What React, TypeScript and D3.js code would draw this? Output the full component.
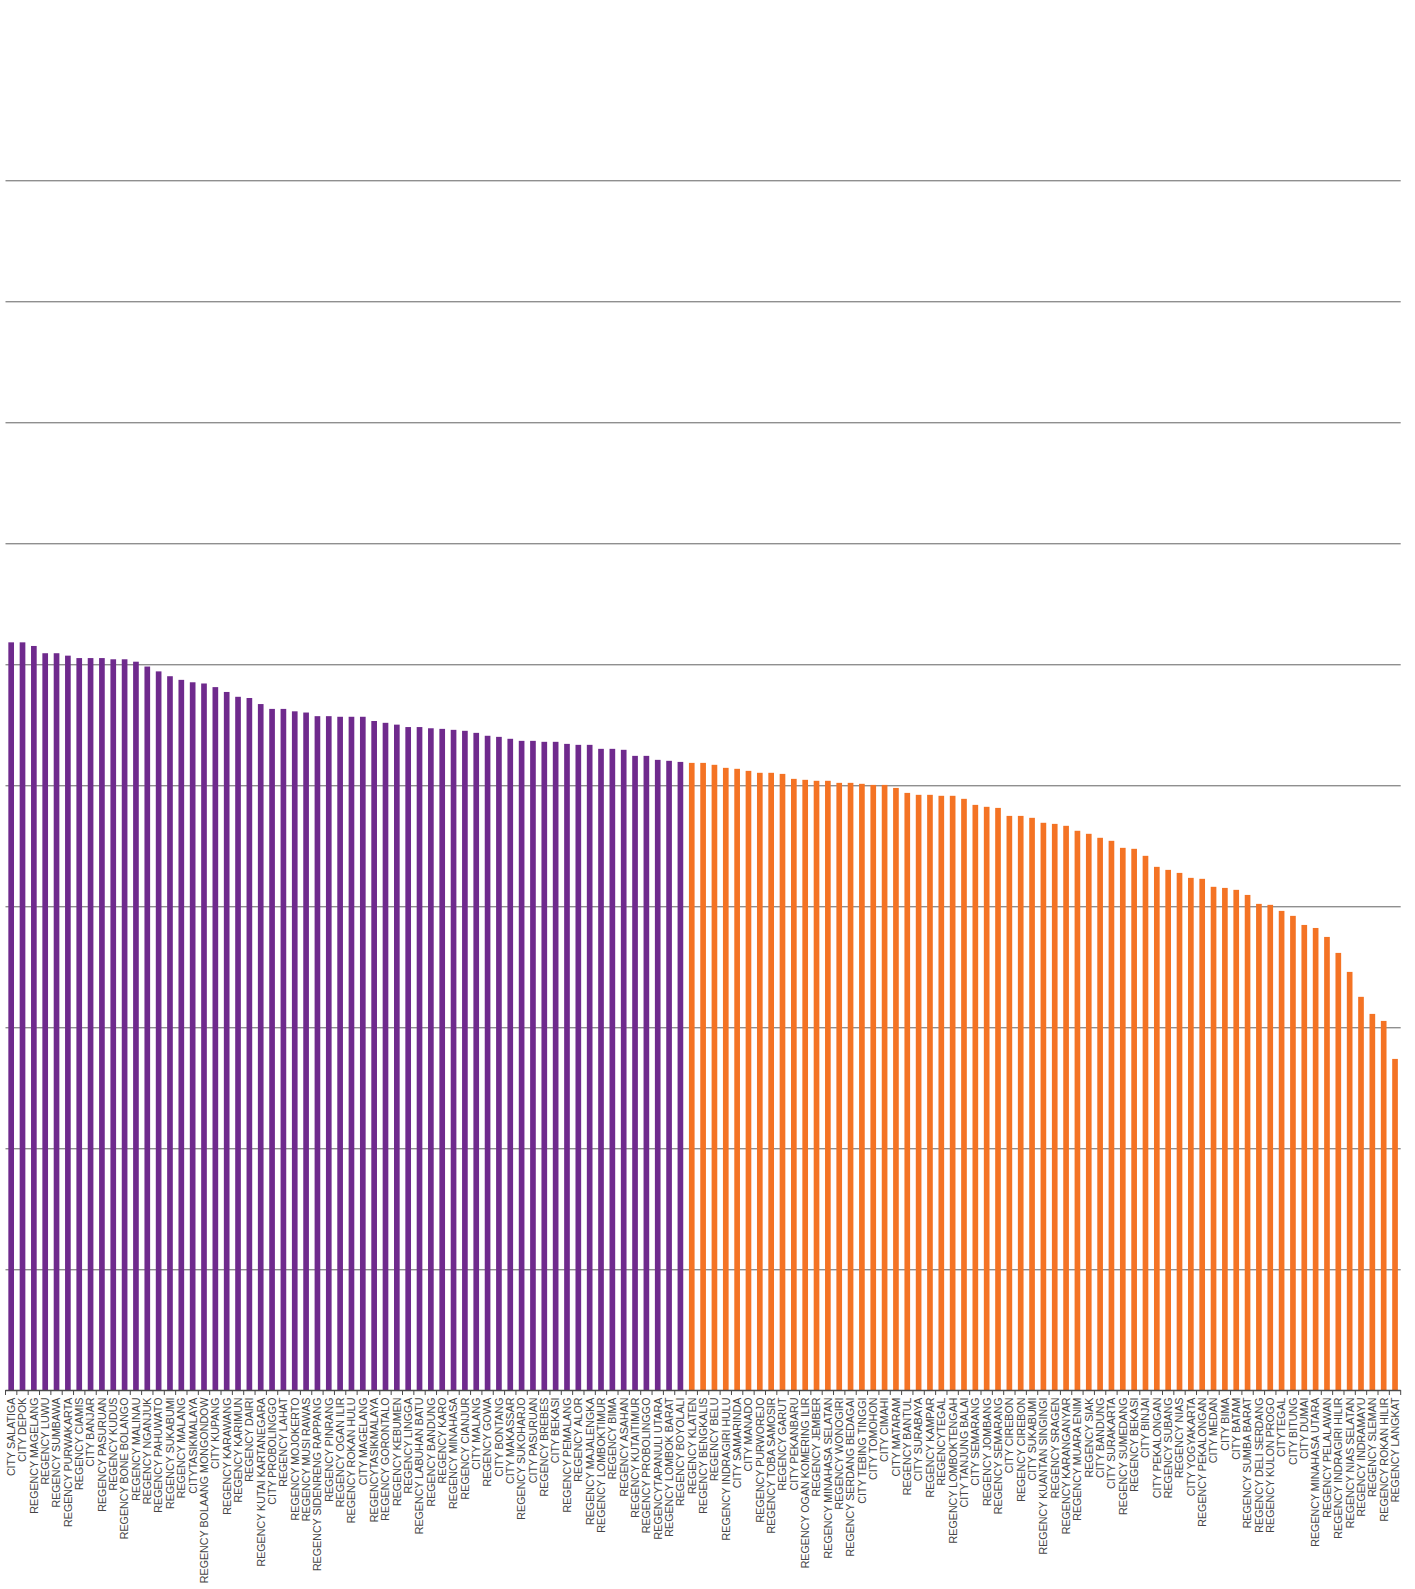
import React from "react";
import * as d3 from "d3";

const purpleNames: string[] = [
  "CITY SALATIGA", "CITY DEPOK", "REGENCY MAGELANG", "REGENCY LUWU", "REGENCY SUMBAWA",
  "REGENCY PURWAKARTA", "REGENCY CIAMIS", "CITY BANJAR", "REGENCY PASURUAN", "REGENCY KUDUS",
  "REGENCY BONE BOLANGO", "REGENCY MALINAU", "REGENCY NGANJUK", "REGENCY PAHUWATO", "REGENCY SUKABUMI",
  "REGENCY MALANG", "CITYTASIKMALAYA", "REGENCY BOLAANG MONGONDOW", "CITY KUPANG", "REGENCY KARAWANG",
  "REGENCY KARIMUN", "REGENCY DAIRI", "REGENCY KUTAI KARTANEGARA", "CITY PROBOLINGGO", "REGENCY LAHAT",
  "REGENCY MOJOKERTO", "REGENCY MUSI RAWAS", "REGENCY SIDENRENG RAPPANG", "REGENCY PINRANG", "REGENCY OGAN ILIR",
  "REGENCY ROKAN HULU", "CITY MAGELANG", "REGENCYTASIKMALAYA", "REGENCY GORONTALO", "REGENCY KEBUMEN",
  "REGENCY LINGGA", "REGENCY LABUHAN BATU", "REGENCY BANDUNG", "REGENCY KARO", "REGENCY MINAHASA",
  "REGENCY CIANJUR", "CITY MALANG", "REGENCY GOWA", "CITY BONTANG", "CITY MAKASSAR",
  "REGENCY SUKOHARJO", "CITY PASURUAN", "REGENCY BREBES", "CITY BEKASI", "REGENCY PEMALANG",
  "REGENCY ALOR", "REGENCY MAJALENGKA", "REGENCY LOMBOKTIMUR", "REGENCY BIMA", "REGENCY ASAHAN",
  "REGENCY KUTAITIMUR", "REGENCY PROBOLINGGO", "REGENCYTAPANULI UTARA", "REGENCY LOMBOK BARAT", "REGENCY BOYOLALI",
];
const purpleValues: number[] = [
  6.18, 6.18, 6.15, 6.09, 6.09, 6.07, 6.05, 6.05, 6.05, 6.04,
  6.04, 6.02, 5.98, 5.94, 5.90, 5.87, 5.85, 5.84, 5.81, 5.77,
  5.73, 5.72, 5.67, 5.63, 5.63, 5.61, 5.60, 5.57, 5.57, 5.565,
  5.565, 5.565, 5.53, 5.515, 5.50, 5.48, 5.48, 5.47, 5.465, 5.457,
  5.449, 5.432, 5.408, 5.399, 5.383, 5.366, 5.366, 5.358, 5.358, 5.341,
  5.333, 5.333, 5.30, 5.30, 5.292, 5.242, 5.242, 5.209, 5.201, 5.192,
];

const orangeNames: string[] = [
  "REGENCY KLATEN", "REGENCY BENGKALIS", "REGENCY BELU", "REGENCY INDRAGIRI HULU", "CITY SAMARINDA",
  "CITY MANADO", "REGENCY PURWOREJO", "REGENCY TOBA SAMOSIR", "REGENCY GARUT", "CITY PEKANBARU",
  "REGENCY OGAN KOMERING ILIR", "REGENCY JEMBER", "REGENCY MINAHASA SELATAN", "REGENCY WONOGIRI", "REGENCY SERDANG BEDAGAI",
  "CITY TEBING TINGGI", "CITY TOMOHON", "CITY CIMAHI", "CITY MATARAM", "REGENCY BANTUL",
  "CITY SURABAYA", "REGENCY KAMPAR", "REGENCYTEGAL", "REGENCY LOMBOKTENGAH", "CITY TANJUNG BALAI",
  "CITY SEMARANG", "REGENCY JOMBANG", "REGENCY SEMARANG", "CITY CIREBON", "REGENCY CIREBON",
  "CITY SUKABUMI", "REGENCY KUANTAN SINGINGI", "REGENCY SRAGEN", "REGENCY KARANGANYAR", "REGENCY MUARA ENIM",
  "REGENCY SIAK", "CITY BANDUNG", "CITY SURAKARTA", "REGENCY SUMEDANG", "REGENCY BEKASI",
  "CITY BINJAI", "CITY PEKALONGAN", "REGENCY SUBANG", "REGENCY NIAS", "CITY YOGYAKARTA",
  "REGENCY PEKALONGAN", "CITY MEDAN", "CITY BIMA", "CITY BATAM", "REGENCY SUMBA BARAT",
  "REGENCY DELI SERDANG", "REGENCY KULON PROGO", "CITYTEGAL", "CITY BITUNG", "CITY DUMAI",
  "REGENCY MINAHASA UTARA", "REGENCY PELALAWAN", "REGENCY INDRAGIRI HILIR", "REGENCY NIAS SELATAN", "REGENCY INDRAMAYU",
  "REGENCY SLEMAN", "REGENCY ROKAN HILIR", "REGENCY LANGKAT",
];
const orangeValues: number[] = [
  5.184, 5.184, 5.168, 5.143, 5.135, 5.118, 5.102, 5.102, 5.093, 5.052,
  5.044, 5.036, 5.036, 5.019, 5.019, 5.011, 5.002, 5.002, 4.977, 4.936,
  4.92, 4.92, 4.912, 4.912, 4.887, 4.837, 4.821, 4.812, 4.746, 4.746,
  4.73, 4.689, 4.68, 4.664, 4.623, 4.598, 4.565, 4.54, 4.482, 4.474,
  4.416, 4.325, 4.30, 4.275, 4.234, 4.226, 4.16, 4.151, 4.135, 4.093,
  4.019, 4.011, 3.961, 3.92, 3.845, 3.82, 3.746, 3.614, 3.457, 3.251,
  3.11, 3.052, 2.738,
];

const gridTicks: number[] = [1, 2, 3, 4, 5, 6, 7, 8, 9, 10];

const PURPLE = "#6F2A8D";
const ORANGE = "#F47324";

export default function App() {
  const width = 1415;
  const height = 1589;
  const data = [
    ...purpleNames.map((n, i) => ({ name: n, value: purpleValues[i], color: PURPLE })),
    ...orangeNames.map((n, i) => ({ name: n, value: orangeValues[i], color: ORANGE })),
  ];
  const x0 = 5.5;
  const x1 = 1400.7;
  const x = d3
    .scaleBand<number>()
    .domain(data.map((_, i) => i))
    .range([x0, x1])
    .paddingInner(0.5)
    .paddingOuter(0.25);
  const y = d3.scaleLinear().domain([0, 10]).range([1390.3, 180.0]);
  const step = x.step();
  const base = y(0);
  const tickEdges = d3.range(data.length + 1).map((i) => x0 + i * step);

  return (
    <div style={{ position: "absolute", left: 0, top: 0 }}>
      <svg width={width} height={height} style={{ display: "block", background: "#fff" }}>
        {gridTicks.map((t) => {
          const yy = Math.floor(y(t));
          return (
            <g key={t}>
              <line x1={x0} x2={x1} y1={yy + 0.5} y2={yy + 0.5} stroke="#8f8f8f" strokeWidth={1} />
              <line x1={x0} x2={x1} y1={yy + 1.5} y2={yy + 1.5} stroke="#d2d2d2" strokeWidth={1} />
            </g>
          );
        })}
        {data.map((d, i) => (
          <rect
            key={i}
            x={x(i)}
            y={y(d.value)}
            width={x.bandwidth()}
            height={base - y(d.value)}
            fill={d.color}
          />
        ))}
        <line x1={x0} x2={x1} y1={Math.floor(base) + 0.5} y2={Math.floor(base) + 0.5} stroke="#4a4a4a" strokeWidth={1.5} />
        {tickEdges.map((tx, i) => (
          <line
            key={i}
            x1={tx}
            x2={tx}
            y1={Math.floor(base)}
            y2={Math.floor(base) + 5}
            stroke="#4a4a4a"
            strokeWidth={1}
          />
        ))}
        {data.map((d, i) => {
          const cx = (x(i) as number) + x.bandwidth() / 2;
          const ty = 1397.5;
          return (
            <text
              key={i}
              transform={`translate(${cx},${ty}) rotate(-90)`}
              textAnchor="end"
              dy="0.36em"
              fontFamily="'Liberation Sans', Arial, sans-serif"
              fontSize={10.7}
              fill="#444"
            >
              {d.name}
            </text>
          );
        })}
      </svg>
    </div>
  );
}
